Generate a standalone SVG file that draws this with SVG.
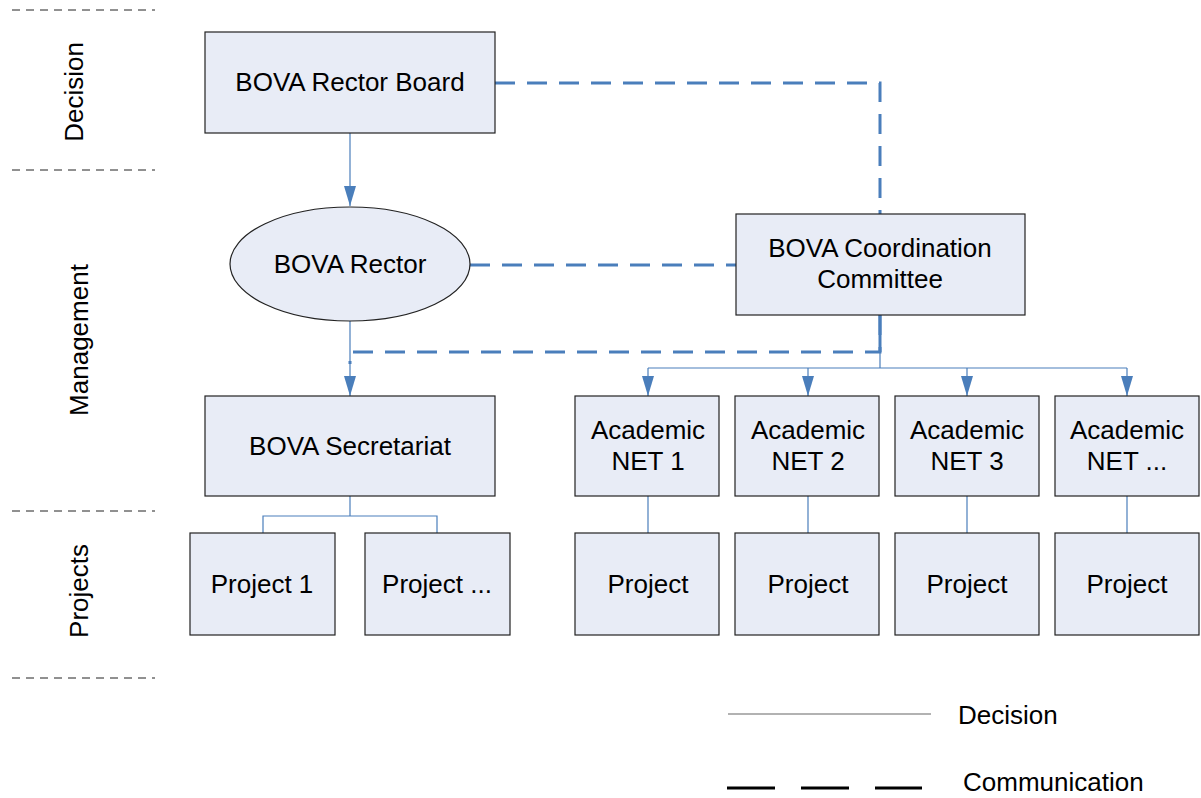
<svg xmlns="http://www.w3.org/2000/svg" width="1201" height="798" viewBox="0 0 1201 798">
<defs>
<style>
text{font-family:"Liberation Sans",Arial,sans-serif;font-size:26px;fill:#000;text-anchor:middle}
.box{fill:#e8ecf6;stroke:#222;stroke-width:1.2}
.sep{stroke:#222;stroke-width:1;stroke-dasharray:8 6;fill:none}
.dec{stroke:#4a7ebb;stroke-width:1.2;fill:none}
.com{stroke:#4a7ebb;stroke-width:3;stroke-dasharray:20 12;fill:none}
</style>
<marker id="arr" viewBox="0 0 20 12" refX="20" refY="6" markerWidth="20" markerHeight="12" markerUnits="userSpaceOnUse" orient="auto">
<path d="M0,0 L20,6 L0,12 Z" fill="#4a7ebb"/>
</marker>
</defs>
<g id="lanes">
<line class="sep" x1="12" y1="10" x2="155" y2="10"/>
<line class="sep" x1="12" y1="170" x2="155" y2="170"/>
<line class="sep" x1="12" y1="511" x2="155" y2="511"/>
<line class="sep" x1="12" y1="678" x2="155" y2="678"/>
<text transform="translate(83,92) rotate(-90)">Decision</text>
<text transform="translate(88,340) rotate(-90)">Management</text>
<text transform="translate(88,591) rotate(-90)">Projects</text>
</g>
<g id="connectors">
<line class="dec" x1="350" y1="133" x2="350" y2="206" marker-end="url(#arr)"/>
<line class="dec" x1="350" y1="321" x2="350" y2="396" marker-end="url(#arr)"/>
<polyline class="com" points="495,83 880,83 880,214"/>
<line class="com" x1="470" y1="265" x2="736" y2="265"/>
<polyline class="com" points="880,315 880,352 350,352 350,364"/>
<line x1="880" y1="315" x2="880" y2="352" stroke="#4a7ebb" stroke-width="3"/>
<line class="dec" x1="880" y1="352" x2="880" y2="368"/>
<line class="dec" x1="648" y1="368" x2="1127" y2="368"/>
<line class="dec" x1="648" y1="368" x2="648" y2="396" marker-end="url(#arr)"/>
<line class="dec" x1="808" y1="368" x2="808" y2="396" marker-end="url(#arr)"/>
<line class="dec" x1="967" y1="368" x2="967" y2="396" marker-end="url(#arr)"/>
<line class="dec" x1="1127" y1="368" x2="1127" y2="396" marker-end="url(#arr)"/>
<line class="dec" x1="350" y1="496" x2="350" y2="516"/>
<polyline class="dec" points="263,533 263,516 437,516 437,533"/>
<line class="dec" x1="648" y1="496" x2="648" y2="533"/>
<line class="dec" x1="808" y1="496" x2="808" y2="533"/>
<line class="dec" x1="967" y1="496" x2="967" y2="533"/>
<line class="dec" x1="1127" y1="496" x2="1127" y2="533"/>
</g>
<g id="rector-board"><rect class="box" x="205" y="32" width="290" height="101"/><text x="350" y="91">BOVA Rector Board</text></g>
<g id="rector"><ellipse class="box" cx="350" cy="264" rx="120" ry="57"/><text x="350" y="273">BOVA Rector</text></g>
<g id="coordination"><rect class="box" x="736" y="214" width="289" height="101"/><text x="880" y="257">BOVA Coordination</text><text x="880" y="288">Committee</text></g>
<g id="secretariat"><rect class="box" x="205" y="396" width="290" height="100"/><text x="350" y="455">BOVA Secretariat</text></g>
<g id="net1"><rect class="box" x="575" y="396" width="144" height="100"/><text x="648" y="439">Academic</text><text x="648" y="470">NET 1</text></g>
<g id="net2"><rect class="box" x="735" y="396" width="144" height="100"/><text x="808" y="439">Academic</text><text x="808" y="470">NET 2</text></g>
<g id="net3"><rect class="box" x="895" y="396" width="144" height="100"/><text x="967" y="439">Academic</text><text x="967" y="470">NET 3</text></g>
<g id="net4"><rect class="box" x="1055" y="396" width="144" height="100"/><text x="1127" y="439">Academic</text><text x="1127" y="470">NET ...</text></g>
<g id="project1"><rect class="box" x="190" y="533" width="145" height="102"/><text x="262" y="593">Project 1</text></g>
<g id="project-more"><rect class="box" x="365" y="533" width="145" height="102"/><text x="437" y="593">Project ...</text></g>
<g id="proj-net1"><rect class="box" x="575" y="533" width="144" height="102"/><text x="648" y="593">Project</text></g>
<g id="proj-net2"><rect class="box" x="735" y="533" width="144" height="102"/><text x="808" y="593">Project</text></g>
<g id="proj-net3"><rect class="box" x="895" y="533" width="144" height="102"/><text x="967" y="593">Project</text></g>
<g id="proj-net4"><rect class="box" x="1055" y="533" width="144" height="102"/><text x="1127" y="593">Project</text></g>
<g id="legend">
<line x1="728" y1="714" x2="931" y2="714" stroke="#666" stroke-width="1.2"/>
<text x="958" y="724" style="text-anchor:start">Decision</text>
<line x1="727" y1="788" x2="922" y2="788" stroke="#000" stroke-width="3" stroke-dasharray="48 26"/>
<text x="963" y="791" style="text-anchor:start">Communication</text>
</g>
</svg>
